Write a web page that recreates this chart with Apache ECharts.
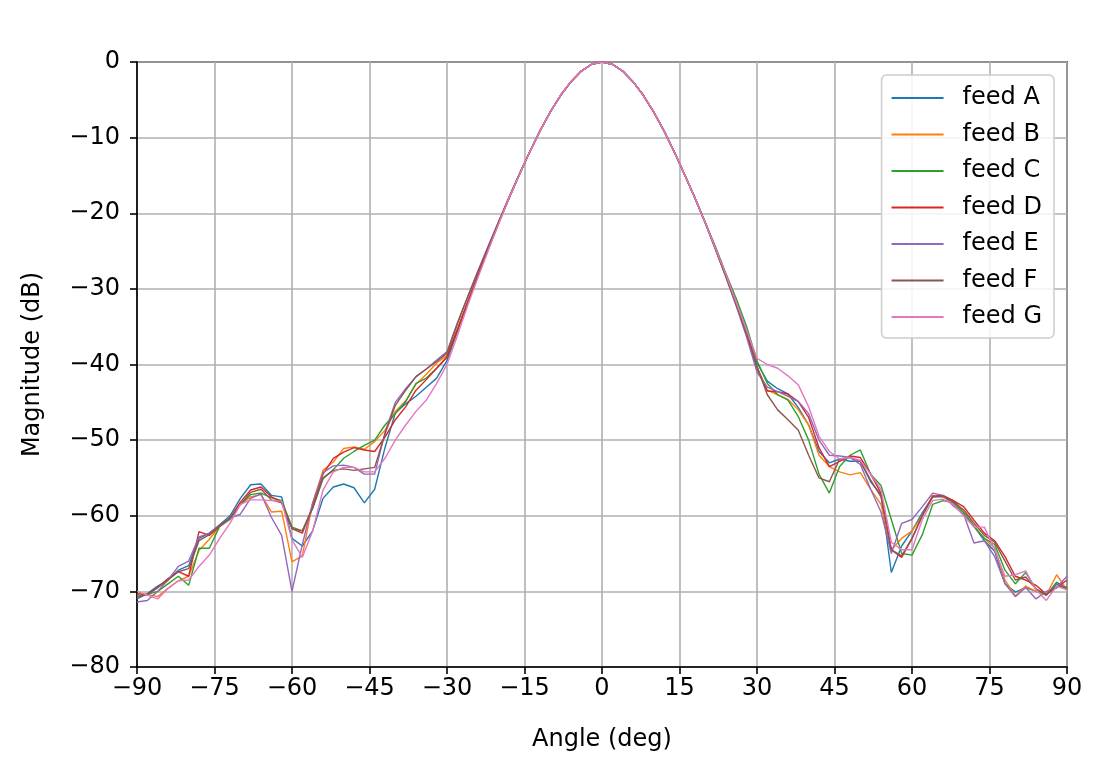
<!DOCTYPE html>
<html><head><meta charset="utf-8">
<script src="https://cdn.jsdelivr.net/npm/echarts@6/dist/echarts.min.js"></script>
<style>html,body{margin:0;padding:0;background:#fff}#c{width:1105px;height:773px}</style>
</head><body><div id="c"></div>
<script>
const angles = [-90,-88,-86,-84,-82,-80,-78,-76,-74,-72,-70,-68,-66,-64,-62,-60,-58,-56,-54,-52,-50,-48,-46,-44,-42,-40,-38,-36,-34,-32,-30,
-28,-26,-24,-22,-20,-18,-16,-14,-12,-10,-8,-6,-4,-2,0,2,4,6,8,10,12,14,16,18,20,22,24,26,28,
30,32,34,36,38,40,42,44,46,48,50,52,54,56,58,60,62,64,66,68,70,72,74,76,78,80,82,84,86,88,90];

const feedA = [-71.0,-70.3,-69.3,-68.5,-67.2,-66.6,-63.0,-62.3,-61.2,-60.0,-57.7,-55.9,-55.8,-57.3,-57.5,-63.0,-64.0,-62.0,-57.7,-56.2,-55.8,-56.3,-58.3,-56.5,-51.0,-46.4,-45.2,-44.2,-43.0,-41.8,-39.5,
-35.6,-31.9,-28.2,-24.7,-21.3,-18.0,-14.9,-11.9,-9.1,-6.6,-4.4,-2.6,-1.2,-0.3,0,-0.3,-1.2,-2.6,-4.4,-6.6,-9.1,-11.9,-14.9,-18.0,-21.3,-24.8,-28.3,-32.2,-36.0,
-39.8,-42.2,-43.2,-43.9,-45.7,-48.0,-51.5,-53.0,-52.5,-52.8,-52.8,-55.5,-57.2,-67.5,-64.0,-62.0,-59.6,-57.5,-57.5,-58.0,-59.5,-61.4,-63.3,-64.7,-69.0,-70.1,-69.5,-70.0,-70.5,-68.8,-69.5];

const feedB = [-70.6,-70.4,-70.7,-69.6,-68.6,-68.0,-64.6,-63.1,-61.4,-60.3,-58.5,-57.5,-57.2,-59.5,-59.4,-66.1,-65.3,-58.3,-54.0,-52.9,-51.1,-50.9,-51.2,-50.2,-48.7,-46.2,-44.8,-42.6,-41.3,-39.8,-38.8,
-35.2,-31.7,-28.2,-24.7,-21.3,-18.0,-14.9,-11.9,-9.1,-6.6,-4.4,-2.6,-1.2,-0.3,0,-0.3,-1.2,-2.6,-4.4,-6.6,-9.1,-11.9,-14.9,-18.0,-21.3,-24.8,-28.3,-32.0,-35.8,
-40.3,-43.4,-44.0,-44.6,-46.0,-48.0,-52.0,-53.5,-54.2,-54.6,-54.3,-56.5,-58.5,-64.5,-63.0,-62.0,-60.0,-57.3,-57.5,-58.2,-59.5,-61.4,-63.0,-64.3,-68.5,-70.6,-69.3,-70.0,-70.5,-67.8,-69.8];

const feedC = [-70.5,-70.4,-70.0,-69.0,-68.0,-69.2,-64.3,-64.3,-61.4,-60.5,-58.5,-57.2,-57.0,-57.6,-58.0,-61.5,-62.0,-59.0,-55.1,-53.9,-52.4,-51.5,-50.7,-50.0,-48.0,-46.5,-44.9,-42.5,-41.8,-40.5,-39.0,
-35.4,-31.8,-28.2,-24.7,-21.3,-18.0,-14.9,-11.9,-9.1,-6.6,-4.4,-2.6,-1.2,-0.3,0,-0.3,-1.2,-2.6,-4.4,-6.6,-9.1,-11.9,-14.9,-18.0,-21.2,-24.5,-28.0,-31.3,-35.0,
-39.5,-42.5,-44.0,-44.7,-46.9,-50.0,-54.5,-57.0,-53.5,-52.0,-51.3,-54.5,-56.0,-60.5,-65.0,-65.2,-62.5,-58.5,-58.0,-58.3,-59.6,-61.4,-63.0,-63.8,-67.2,-69.0,-67.5,-69.7,-70.5,-69.0,-69.7];

const feedD = [-70.3,-70.4,-69.5,-68.3,-67.4,-68.0,-62.1,-62.6,-61.4,-60.3,-58.2,-56.6,-56.2,-57.5,-58.2,-61.7,-62.3,-58.7,-54.5,-52.4,-51.6,-51.0,-51.3,-51.5,-49.6,-47.3,-45.6,-43.4,-42.0,-40.5,-39.0,
-35.5,-31.8,-28.2,-24.7,-21.3,-18.0,-14.9,-11.9,-9.1,-6.6,-4.4,-2.6,-1.2,-0.3,0,-0.3,-1.2,-2.6,-4.4,-6.6,-9.1,-11.9,-14.9,-18.0,-21.3,-24.7,-28.2,-31.9,-35.6,
-40.5,-43.5,-43.6,-43.9,-44.9,-47.0,-51.0,-53.5,-52.8,-52.1,-52.3,-54.5,-57.0,-64.5,-65.5,-63.0,-60.0,-57.4,-57.3,-58.0,-58.8,-60.6,-62.3,-63.3,-65.4,-68.0,-68.5,-69.2,-70.4,-69.5,-68.5];

const feedE = [-71.4,-71.2,-70.0,-68.5,-66.7,-66.0,-62.8,-62.3,-61.3,-60.3,-59.8,-57.7,-57.1,-60.2,-62.6,-70.0,-63.8,-58.3,-54.3,-53.4,-53.3,-53.6,-54.5,-54.5,-49.0,-45.0,-43.2,-41.6,-40.6,-39.4,-38.3,
-34.5,-31.0,-27.6,-24.3,-21.1,-17.9,-14.8,-11.9,-9.1,-6.6,-4.4,-2.6,-1.2,-0.3,0,-0.3,-1.2,-2.6,-4.4,-6.6,-9.1,-11.9,-14.9,-18.0,-21.3,-24.9,-28.5,-32.3,-36.4,
-41.0,-43.0,-43.6,-44.2,-44.9,-46.5,-50.0,-52.0,-52.1,-52.3,-53.2,-56.5,-59.5,-65.0,-61.0,-60.5,-58.8,-57.0,-57.3,-58.7,-59.8,-63.6,-63.3,-65.4,-69.0,-70.7,-69.5,-71.0,-70.0,-69.5,-68.0];

const feedF = [-70.8,-70.4,-69.5,-68.5,-67.4,-67.0,-63.3,-62.5,-61.3,-60.3,-58.5,-56.9,-56.5,-57.9,-58.3,-61.7,-62.0,-59.0,-55.0,-54.0,-53.8,-54.0,-53.8,-53.6,-49.2,-45.4,-43.4,-41.6,-40.6,-39.6,-38.5,
-34.6,-31.1,-27.7,-24.4,-21.1,-17.9,-14.8,-11.9,-9.1,-6.6,-4.4,-2.6,-1.2,-0.3,0,-0.3,-1.2,-2.6,-4.4,-6.6,-9.1,-11.9,-14.9,-18.0,-21.3,-24.8,-28.4,-32.1,-36.0,
-40.3,-44.0,-46.0,-47.3,-48.7,-52.0,-55.0,-55.5,-52.5,-52.3,-52.8,-55.3,-57.5,-64.5,-65.3,-63.0,-60.0,-57.5,-57.4,-58.2,-59.2,-61.0,-62.6,-63.5,-66.0,-68.5,-68.1,-69.7,-70.4,-69.3,-69.5];

const feedG = [-70.0,-70.5,-71.0,-69.6,-68.6,-68.5,-66.7,-65.2,-63.0,-61.0,-58.5,-57.9,-57.9,-58.0,-58.1,-63.2,-65.5,-62.0,-56.6,-54.2,-53.6,-53.6,-54.2,-54.2,-52.4,-50.0,-48.0,-46.2,-44.7,-42.5,-40.0,
-36.2,-32.2,-28.5,-24.9,-21.4,-18.0,-14.9,-11.9,-9.1,-6.6,-4.4,-2.6,-1.2,-0.3,0,-0.3,-1.2,-2.6,-4.4,-6.6,-9.1,-11.9,-14.9,-18.0,-21.3,-24.7,-28.1,-31.8,-35.5,
-39.2,-40.0,-40.5,-41.5,-42.7,-45.6,-49.5,-51.5,-52.5,-52.3,-52.7,-54.5,-56.5,-63.5,-64.5,-64.5,-60.5,-58.0,-57.8,-58.5,-60.0,-61.5,-61.5,-64.5,-68.0,-67.8,-67.3,-69.8,-71.2,-69.3,-69.8];

const names = ['feed A','feed B','feed C','feed D','feed E','feed F','feed G'];
const feeds = [feedA, feedB, feedC, feedD, feedE, feedF, feedG];
const colors = ['#1f77b4','#ff7f0e','#2ca02c','#d62728','#9467bd','#8c564b','#e377c2'];
const xTicks = {min:-90, max:90, step:15};
const yTicks = {min:-80, max:0, step:10};

const fmt = v => v < 0 ? '\u2212' + Math.abs(v) : String(v);
const font = 'DejaVu Sans';
const chart = echarts.init(document.getElementById('c'), null, {renderer:'canvas'});

const series = feeds.map((f, k) => ({
  name: names[k], type:'line', symbol:'none', smooth:false,
  data: angles.map((a, i) => [a, f[i]]),
  lineStyle:{color:colors[k], width:1.4}, itemStyle:{color:colors[k]},
  z: 3 + k
}));

chart.setOption({
  animation:false,
  backgroundColor:'#ffffff',
  color: colors,
  grid:{left:137, right:38, top:62, bottom:106, show:true, borderColor:'#000', borderWidth:1.6, backgroundColor:'rgba(0,0,0,0)'},
  xAxis:{
    type:'value', min:xTicks.min, max:xTicks.max, interval:xTicks.step,
    name:'Angle (deg)', nameLocation:'middle', nameGap:61,
    nameTextStyle:{fontFamily:font, fontSize:24, color:'#000'},
    axisLine:{show:true, onZero:false, lineStyle:{color:'#000', width:1.6}},
    axisTick:{show:true, inside:false, length:7, lineStyle:{color:'#000', width:1.6}},
    axisLabel:{formatter:fmt, fontFamily:font, fontSize:24, color:'#000', margin:10},
    splitLine:{show:true, lineStyle:{color:'#b0b0b0', width:1.6}}
  },
  yAxis:{
    type:'value', min:yTicks.min, max:yTicks.max, interval:yTicks.step,
    name:'Magnitude (dB)', nameLocation:'middle', nameGap:92,
    nameTextStyle:{fontFamily:font, fontSize:24, color:'#000'},
    axisLine:{show:true, onZero:false, lineStyle:{color:'#000', width:1.6}},
    axisTick:{show:true, inside:false, length:7, lineStyle:{color:'#000', width:1.6}},
    axisLabel:{formatter:fmt, fontFamily:font, fontSize:24, color:'#000', margin:17},
    splitLine:{show:true, lineStyle:{color:'#b0b0b0', width:1.6}}
  },
  legend:{
    orient:'vertical', right:51, top:75,
    backgroundColor:'rgba(255,255,255,0.85)', borderColor:'#cccccc', borderWidth:1.5, borderRadius:5,
    padding:[11,12,9,10], itemWidth:52, itemHeight:2, itemGap:12.5, icon:'rect',
    textStyle:{fontFamily:font, fontSize:24, lineHeight:24, color:'#000', padding:[0,0,0,14]},
    data:names
  },
  series: series
});
</script></body></html>
